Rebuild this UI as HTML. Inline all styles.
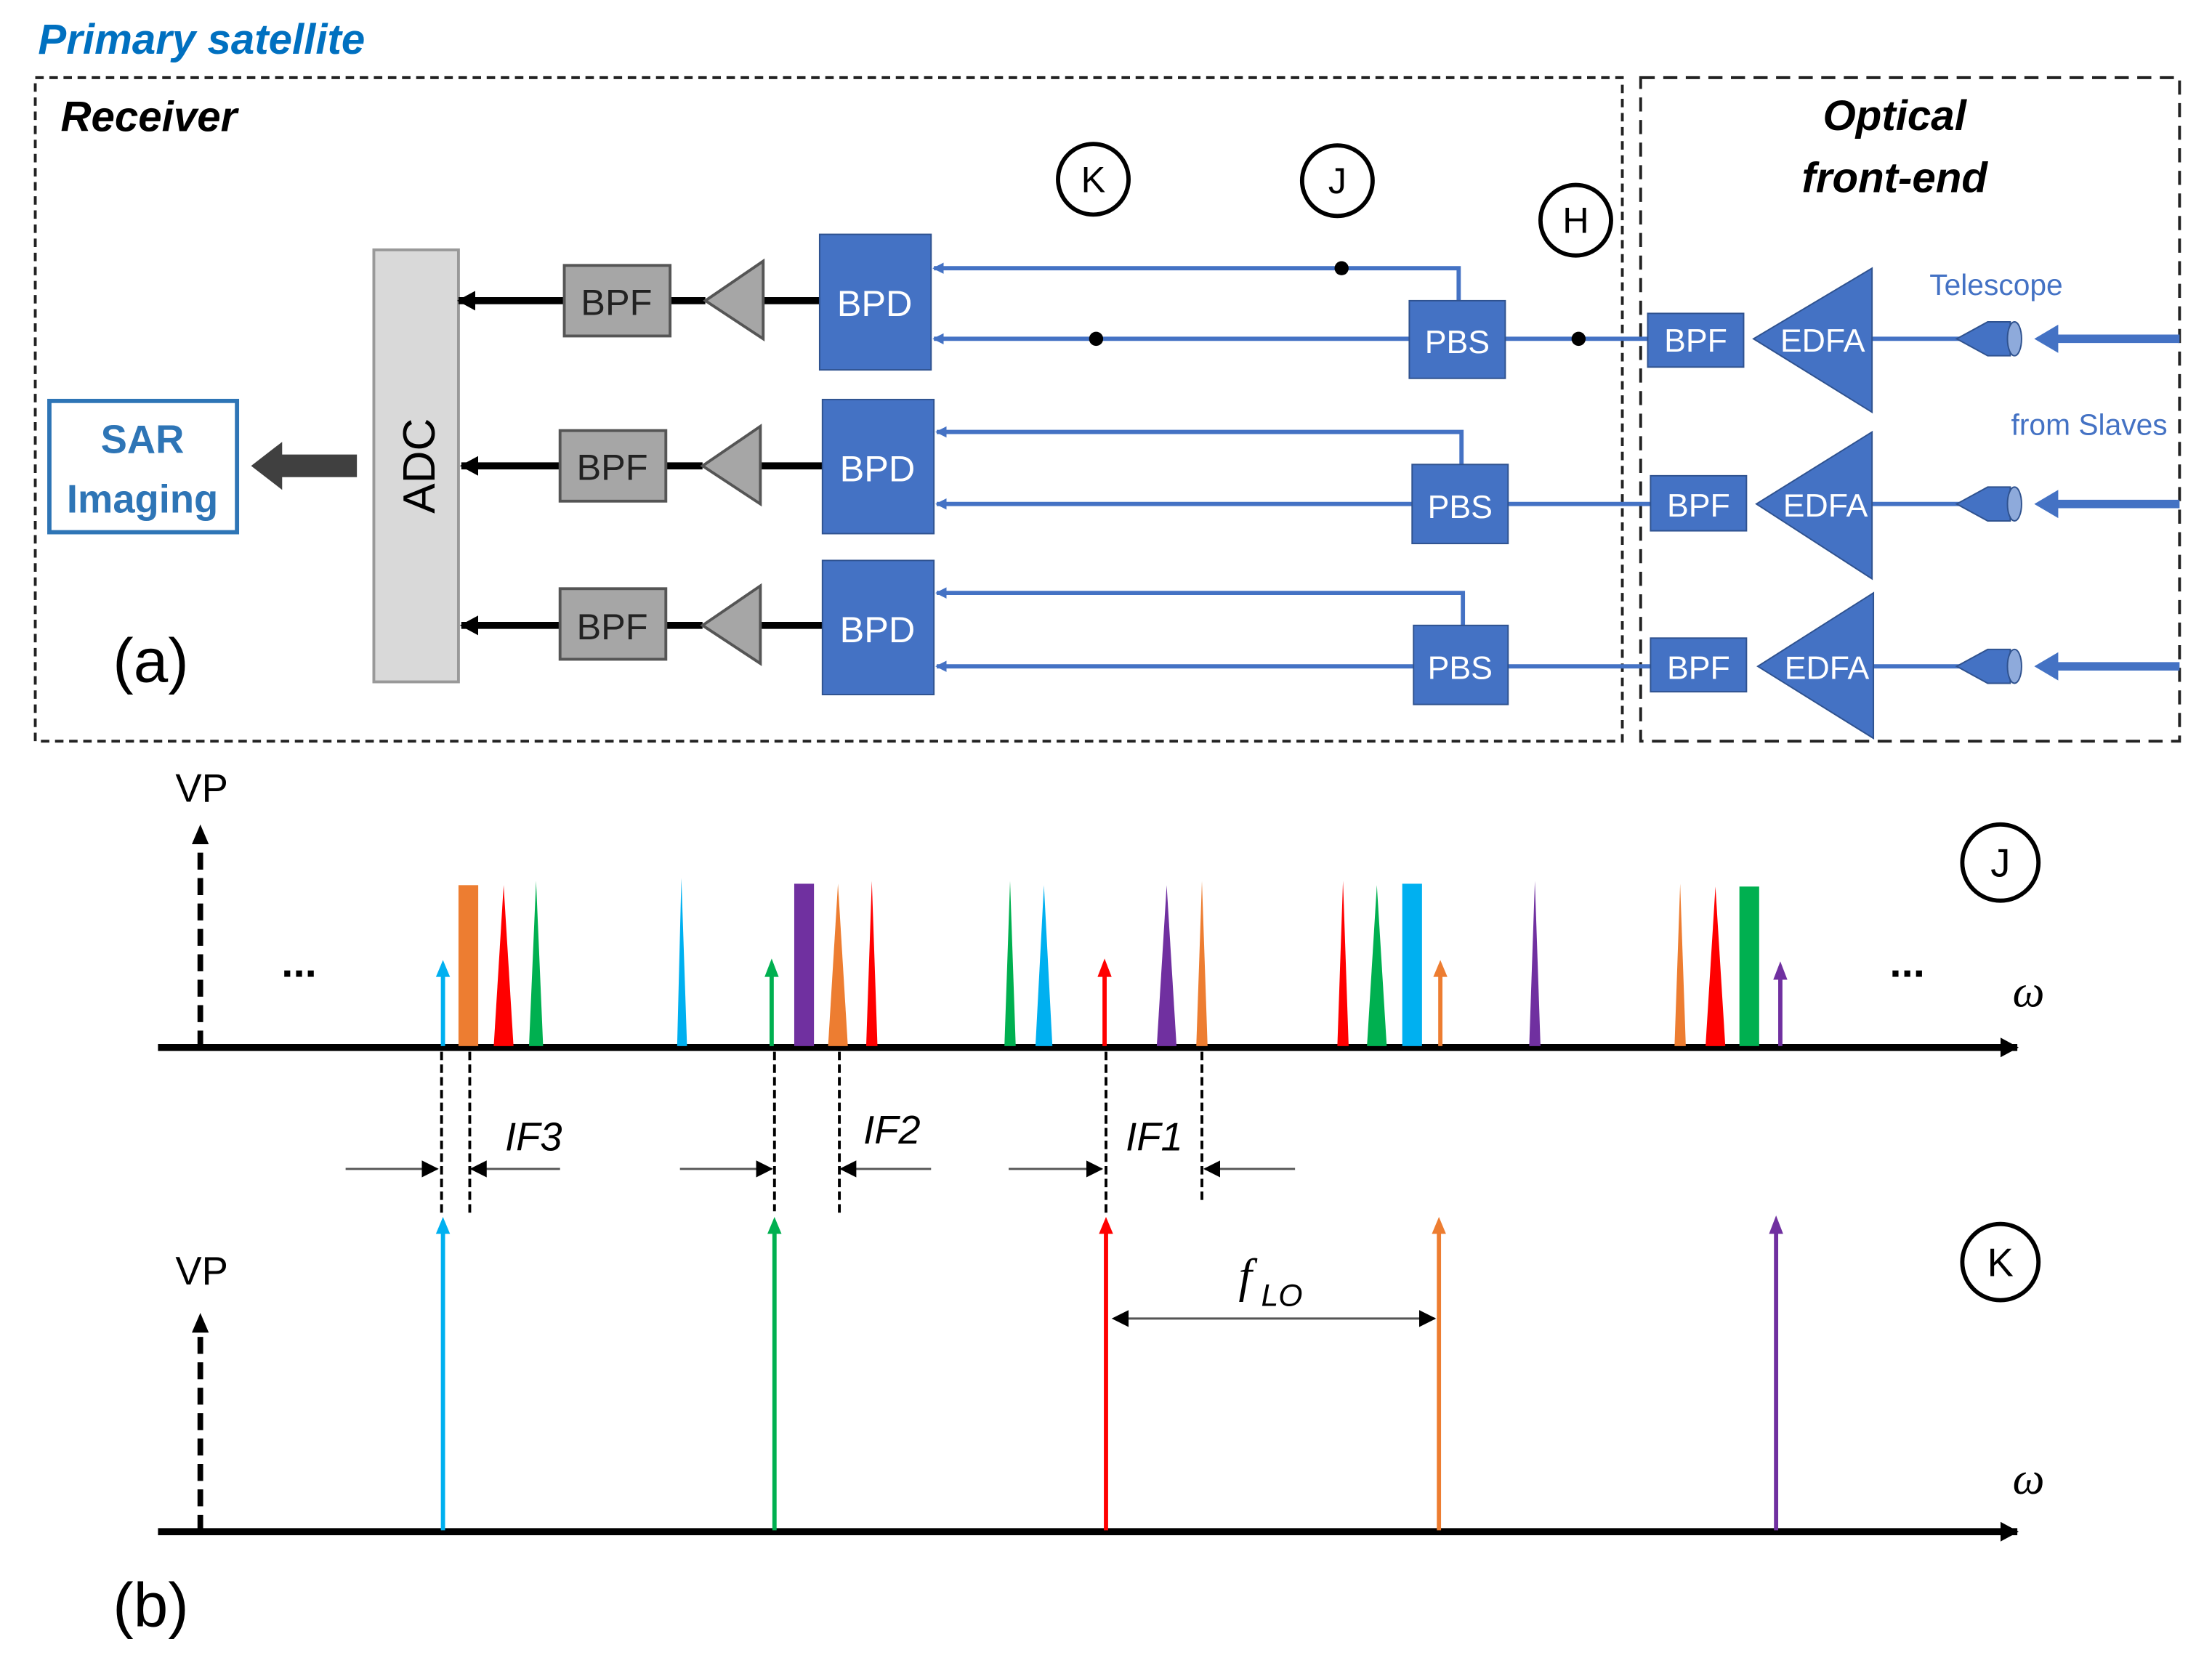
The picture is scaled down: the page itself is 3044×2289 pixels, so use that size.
<!DOCTYPE html>
<html><head><meta charset="utf-8"><style>html,body{margin:0;padding:0;background:#fff}svg{display:block}</style></head>
<body>
<svg width="3044" height="2289" viewBox="0 0 1568 1178" preserveAspectRatio="none" xmlns="http://www.w3.org/2000/svg" font-family="Liberation Sans, DejaVu Sans, sans-serif">
<defs>
<marker id="ab" markerWidth="8" markerHeight="8" refX="7" refY="4" orient="auto" markerUnits="userSpaceOnUse"><path d="M0,0 L8,4 L0,8z" fill="#4472c4"/></marker>
<marker id="ak" markerWidth="14" markerHeight="14" refX="12" refY="7" orient="auto" markerUnits="userSpaceOnUse"><path d="M0,0 L13,7 L0,14z" fill="#000"/></marker>
<marker id="ak2" markerWidth="12" markerHeight="12" refX="11" refY="6" orient="auto" markerUnits="userSpaceOnUse"><path d="M0,0 L12,6 L0,12z" fill="#000"/></marker>
</defs>
<text x="27" y="38" font-size="30" font-weight="bold" font-style="italic" fill="#0070c0">Primary satellite</text>
<rect x="25" y="55" width="1125" height="470" fill="none" stroke="#222" stroke-width="2" stroke-dasharray="6,4"/>
<rect x="1163" y="55" width="382" height="470" fill="none" stroke="#222" stroke-width="2" stroke-dasharray="10,6"/>
<text x="43" y="93" font-size="30" font-weight="bold" font-style="italic">Receiver</text>
<text x="1343" y="92" font-size="30" font-weight="bold" font-style="italic" text-anchor="middle">Optical</text>
<text x="1343" y="136" font-size="30" font-weight="bold" font-style="italic" text-anchor="middle">front-end</text>
<g fill="none" stroke="#000" stroke-width="3"><circle cx="775" cy="127" r="25"/><circle cx="948" cy="128" r="25"/><circle cx="1117" cy="156" r="25"/></g>
<g font-size="26" text-anchor="middle"><text x="775" y="136">K</text><text x="948" y="137">J</text><text x="1117" y="165">H</text></g>
<rect x="265" y="177" width="60" height="306" fill="#d9d9d9" stroke="#999" stroke-width="2"/>
<text transform="translate(308,330) rotate(-90)" font-size="32" text-anchor="middle">ADC</text>
<rect x="35" y="284" width="133" height="93" fill="#fff" stroke="#2e75b6" stroke-width="3"/>
<text x="101" y="321" font-size="28" font-weight="bold" fill="#2e75b6" text-anchor="middle">SAR</text>
<text x="101" y="363" font-size="28" font-weight="bold" fill="#2e75b6" text-anchor="middle">Imaging</text>
<path d="M253,322 L200,322 L200,313 L178,330 L200,347 L200,338 L253,338z" fill="#404040"/>
<g id="rows">
<g stroke="#000" stroke-width="5"><line x1="581" y1="213" x2="541" y2="213"/><line x1="500" y1="213" x2="475" y2="213"/><line x1="400" y1="213" x2="325" y2="213" marker-end="url(#ak)"/>
<line x1="583" y1="330" x2="539" y2="330"/><line x1="498" y1="330" x2="472" y2="330"/><line x1="397" y1="330" x2="327" y2="330" marker-end="url(#ak)"/>
<line x1="583" y1="443" x2="539" y2="443"/><line x1="498" y1="443" x2="472" y2="443"/><line x1="397" y1="443" x2="327" y2="443" marker-end="url(#ak)"/></g>
<g fill="#a6a6a6" stroke="#555" stroke-width="2"><rect x="400" y="188" width="75" height="50"/><rect x="397" y="305" width="75" height="50"/><rect x="397" y="417" width="75" height="50"/>
<path d="M500,213 L541,185 L541,240z"/><path d="M498,330 L539,302 L539,357z"/><path d="M498,443 L539,415 L539,470z"/></g>
<g font-size="26" text-anchor="middle" fill="#222"><text x="437" y="223">BPF</text><text x="434" y="340">BPF</text><text x="434" y="453">BPF</text></g>
<g fill="none" stroke="#4472c4" stroke-width="3">
<path d="M1034,213 L1034,190 L662,190" marker-end="url(#ab)"/><line x1="999" y1="240" x2="662" y2="240" marker-end="url(#ab)"/><line x1="1067" y1="240" x2="1168" y2="240"/>
<path d="M1036,329 L1036,306 L664,306" marker-end="url(#ab)"/><line x1="1001" y1="357" x2="664" y2="357" marker-end="url(#ab)"/><line x1="1069" y1="357" x2="1170" y2="357"/>
<path d="M1037,443 L1037,420 L664,420" marker-end="url(#ab)"/><line x1="1002" y1="472" x2="664" y2="472" marker-end="url(#ab)"/><line x1="1069" y1="472" x2="1170" y2="472"/>
<line x1="1327" y1="240" x2="1395" y2="240"/><line x1="1327" y1="357" x2="1395" y2="357"/><line x1="1328" y1="472" x2="1395" y2="472"/></g>
<g fill="#000"><circle cx="951" cy="190" r="5"/><circle cx="777" cy="240" r="5"/><circle cx="1119" cy="240" r="5"/></g>
<g fill="#4472c4" stroke="#2f528f" stroke-width="1">
<rect x="581" y="166" width="79" height="96"/><rect x="583" y="283" width="79" height="95"/><rect x="583" y="397" width="79" height="95"/>
<rect x="999" y="213" width="68" height="55"/><rect x="1001" y="329" width="68" height="56"/><rect x="1002" y="443" width="67" height="56"/>
<rect x="1168" y="222" width="68" height="38"/><rect x="1170" y="337" width="68" height="39"/><rect x="1170" y="452" width="68" height="38"/>
<path d="M1243,240 L1327,190 L1327,292z"/><path d="M1245,357 L1327,306 L1327,410z"/><path d="M1246,472 L1328,420 L1328,523z"/></g>
<g font-size="26" text-anchor="middle" fill="#fff"><text x="620" y="224">BPD</text><text x="622" y="341">BPD</text><text x="622" y="455">BPD</text>
<text x="1033" y="250" font-size="23">PBS</text><text x="1035" y="367" font-size="23">PBS</text><text x="1035" y="481" font-size="23">PBS</text>
<text x="1202" y="249" font-size="23">BPF</text><text x="1204" y="366" font-size="23">BPF</text><text x="1204" y="481" font-size="23">BPF</text>
<text x="1292" y="249" font-size="23">EDFA</text><text x="1294" y="366" font-size="23">EDFA</text><text x="1295" y="481" font-size="23">EDFA</text></g>
<g fill="#4472c4" stroke="#2f528f" stroke-width="1">
<path d="M1387,240 L1409,228 L1425,228 L1425,252 L1409,252z"/><ellipse cx="1428" cy="240" rx="5" ry="12" fill="#8eaadb"/>
<path d="M1387,357 L1409,345 L1425,345 L1425,369 L1409,369z"/><ellipse cx="1428" cy="357" rx="5" ry="12" fill="#8eaadb"/>
<path d="M1387,472 L1409,460 L1425,460 L1425,484 L1409,484z"/><ellipse cx="1428" cy="472" rx="5" ry="12" fill="#8eaadb"/>
<path d="M1545,237 L1459,237 L1459,230 L1442,240 L1459,250 L1459,243 L1545,243z" stroke="none"/>
<path d="M1545,354 L1459,354 L1459,347 L1442,357 L1459,367 L1459,360 L1545,360z" stroke="none"/>
<path d="M1545,469 L1459,469 L1459,462 L1442,472 L1459,482 L1459,475 L1545,475z" stroke="none"/></g>
</g>
<text x="1415" y="209" font-size="21" fill="#4472c4" text-anchor="middle">Telescope</text>
<text x="1481" y="308" font-size="21" fill="#4472c4" text-anchor="middle">from Slaves</text>
<text x="80" y="483" font-size="44">(a)</text>
<line x1="112" y1="742" x2="1430" y2="742" stroke="#000" stroke-width="5" marker-end="url(#ak)"/>
<line x1="142" y1="742" x2="142" y2="598" stroke="#000" stroke-width="4" stroke-dasharray="12,6"/><path d="M136,598 L142,584 L148,598z"/>
<text x="143" y="568" font-size="28" text-anchor="middle">VP</text>
<text x="212" y="692" font-size="30" text-anchor="middle" font-weight="bold">...</text>
<text x="1352" y="692" font-size="30" text-anchor="middle" font-weight="bold">...</text>
<text x="1438" y="713" font-size="32" font-style="italic" font-family="Liberation Serif, serif" text-anchor="middle">ω</text>
<text x="1438" y="1058" font-size="32" font-style="italic" font-family="Liberation Serif, serif" text-anchor="middle">ω</text>
<g fill="none" stroke="#000" stroke-width="3"><circle cx="1418" cy="611" r="27"/><circle cx="1418" cy="894" r="27"/></g>
<text x="1418" y="621" font-size="28" text-anchor="middle">J</text><text x="1418" y="904" font-size="28" text-anchor="middle">K</text>
<g>
<rect x="325" y="627" width="14" height="114" fill="#ed7d31"/>
<path d="M350,741 L357,627 L364,741z" fill="#ff0000"/>
<path d="M375,741 L380,624 L385,741z" fill="#00b050"/>
<path d="M480,741 L483,622 L487,741z" fill="#00b0f0"/>
<rect x="563" y="626" width="14" height="115" fill="#7030a0"/>
<path d="M587,741 L594,626 L601,741z" fill="#ed7d31"/>
<path d="M614,741 L618,624 L622,741z" fill="#ff0000"/>
<path d="M712,741 L716,624 L720,741z" fill="#00b050"/>
<path d="M734,741 L740,627 L746,741z" fill="#00b0f0"/>
<path d="M820,741 L827,627 L834,741z" fill="#7030a0"/>
<path d="M848,741 L852,624 L856,741z" fill="#ed7d31"/>
<path d="M948,741 L952,624 L956,741z" fill="#ff0000"/>
<path d="M969,741 L976,627 L983,741z" fill="#00b050"/>
<rect x="994" y="626" width="14" height="115" fill="#00b0f0"/>
<path d="M1084,741 L1088,624 L1092,741z" fill="#7030a0"/>
<path d="M1187,741 L1191,626 L1195,741z" fill="#ed7d31"/>
<path d="M1209,741 L1216,628 L1223,741z" fill="#ff0000"/>
<rect x="1233" y="628" width="14" height="113" fill="#00b050"/>
</g>
<g stroke-width="3">
<line x1="314" y1="741" x2="314" y2="690" stroke="#00b0f0"/><path d="M309,692 L314,680 L319,692z" fill="#00b0f0"/>
<line x1="547" y1="741" x2="547" y2="690" stroke="#00b050"/><path d="M542,692 L547,679 L552,692z" fill="#00b050"/>
<line x1="783" y1="741" x2="783" y2="690" stroke="#ff0000"/><path d="M778,692 L783,679 L788,692z" fill="#ff0000"/>
<line x1="1021" y1="741" x2="1021" y2="690" stroke="#ed7d31"/><path d="M1016,692 L1021,680 L1026,692z" fill="#ed7d31"/>
<line x1="1262" y1="741" x2="1262" y2="692" stroke="#7030a0"/><path d="M1257,694 L1262,681 L1267,694z" fill="#7030a0"/>
</g>
<g stroke="#000" stroke-width="2" stroke-dasharray="6,3">
<line x1="313" y1="745" x2="313" y2="860"/><line x1="333" y1="745" x2="333" y2="860"/><line x1="549" y1="745" x2="549" y2="858"/>
<line x1="595" y1="745" x2="595" y2="860"/><line x1="784" y1="745" x2="784" y2="860"/><line x1="852" y1="745" x2="852" y2="850"/></g>
<g stroke="#555" stroke-width="1.5">
<line x1="245" y1="828" x2="310" y2="828" marker-end="url(#ak2)"/><line x1="397" y1="828" x2="334" y2="828" marker-end="url(#ak2)"/>
<line x1="482" y1="828" x2="547" y2="828" marker-end="url(#ak2)"/><line x1="660" y1="828" x2="596" y2="828" marker-end="url(#ak2)"/>
<line x1="715" y1="828" x2="781" y2="828" marker-end="url(#ak2)"/><line x1="918" y1="828" x2="854" y2="828" marker-end="url(#ak2)"/>
<line x1="790" y1="934" x2="1017" y2="934" marker-end="url(#ak2)"/></g>
<path d="M788,934 L800,928 L800,940z" fill="#000"/>
<g font-size="28" font-style="italic"><text x="358" y="815">IF3</text><text x="612" y="810">IF2</text><text x="798" y="815">IF1</text></g>
<text x="878" y="915" font-size="34" font-style="italic" font-family="Liberation Serif, serif">f</text>
<text x="894" y="925" font-size="22" font-style="italic">LO</text>
<line x1="112" y1="1085" x2="1430" y2="1085" stroke="#000" stroke-width="5" marker-end="url(#ak)"/>
<line x1="142" y1="1085" x2="142" y2="944" stroke="#000" stroke-width="4" stroke-dasharray="12,6"/><path d="M136,944 L142,930 L148,944z"/>
<text x="143" y="910" font-size="28" text-anchor="middle">VP</text>
<g stroke-width="3">
<line x1="314" y1="1084" x2="314" y2="872" stroke="#00b0f0"/><path d="M309,874 L314,862 L319,874z" fill="#00b0f0"/>
<line x1="549" y1="1084" x2="549" y2="872" stroke="#00b050"/><path d="M544,874 L549,862 L554,874z" fill="#00b050"/>
<line x1="784" y1="1084" x2="784" y2="872" stroke="#ff0000"/><path d="M779,874 L784,862 L789,874z" fill="#ff0000"/>
<line x1="1020" y1="1084" x2="1020" y2="872" stroke="#ed7d31"/><path d="M1015,874 L1020,862 L1025,874z" fill="#ed7d31"/>
<line x1="1259" y1="1084" x2="1259" y2="872" stroke="#7030a0"/><path d="M1254,874 L1259,861 L1264,874z" fill="#7030a0"/>
</g>
<text x="80" y="1152" font-size="44">(b)</text>
</svg>
</body></html>
